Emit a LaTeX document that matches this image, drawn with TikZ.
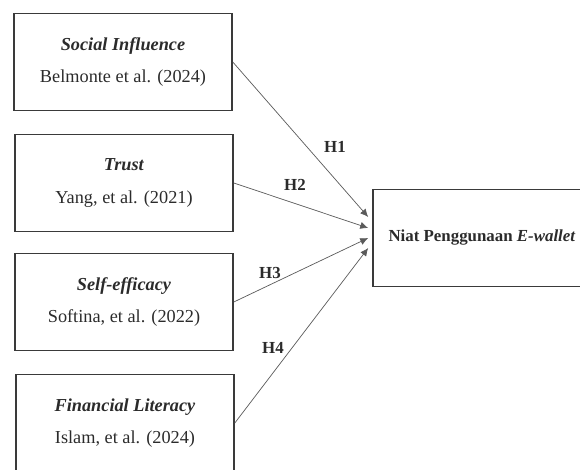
\documentclass[tikz,border=0pt]{standalone}
\usepackage{fontspec}
\setmainfont{Liberation Serif}
\usetikzlibrary{arrows.meta,calc}
\definecolor{rmline}{HTML}{3A3A3A}
\definecolor{rmarrow}{HTML}{5A5A5A}
\definecolor{rmtext}{HTML}{2B2B2B}
\tikzset{
  varbox/.style = {draw=rmline, line width=1.1pt, align=center, text=rmtext,
                   font=\fontsize{13}{15}\selectfont, inner sep=0pt,
                   minimum width=5.45cm, minimum height=2.42cm},
  depbox/.style = {varbox, font=\fontsize{12}{14}\selectfont\bfseries},
  hyp/.style    = {-{Latex[length=2mm,width=1.8mm]}, draw=rmarrow,
                   line width=0.5pt},
  hlbl/.style   = {font=\fontsize{12}{14}\selectfont\bfseries, text=rmtext,
                   inner sep=1pt},
}

\begin{document}
\begin{tikzpicture}[x=0.025cm, y=-0.025cm]
  \useasboundingbox (0,0) rectangle (580,469);
  \clip (0,0) rectangle (580,469);

  % ---------- independent variables ---------------------------------------
  \node[varbox] (si) at (123,62)
    {\textbf{\textit{Social Influence}}\\[8pt] Belmonte et al. (2024)};
  \node[varbox] (tr) at (124,183)
    {\textbf{\textit{Trust}}\\[8pt] Yang, et al. (2021)};
  \node[varbox] (se) at (124,302)
    {\textbf{\textit{Self-efficacy}}\\[8pt] Softina, et al. (2022)};
  \node[varbox] (fl) at (125,423)
    {\textbf{\textit{Financial Literacy}}\\[8pt] Islam, et al. (2024)};

  % ---------- dependent variable ------------------------------------------
  \node[depbox] (niat) at (482,238) {Niat Penggunaan \textit{E-wallet}};

  \coordinate (in1) at ($(niat.west)+(-4,-21)$);
  \coordinate (in2) at ($(niat.west)+(-4,-10)$);
  \coordinate (in3) at ($(niat.west)+(-4,0)$);
  \coordinate (in4) at ($(niat.west)+(-4,10)$);

  % ---------- hypotheses --------------------------------------------------
  \draw[hyp] (si.east) -- (in1);
  \draw[hyp] (tr.east) -- (in2);
  \draw[hyp] (se.east) -- (in3);
  \draw[hyp] (fl.east) -- (in4);

  \node[hlbl] (h1) at (335,147) {H1};
  \node[hlbl] (h2) at (295,185) {H2};
  \node[hlbl] (h3) at (270,273) {H3};
  \node[hlbl] (h4) at (273,348) {H4};

\end{tikzpicture}
\end{document}
